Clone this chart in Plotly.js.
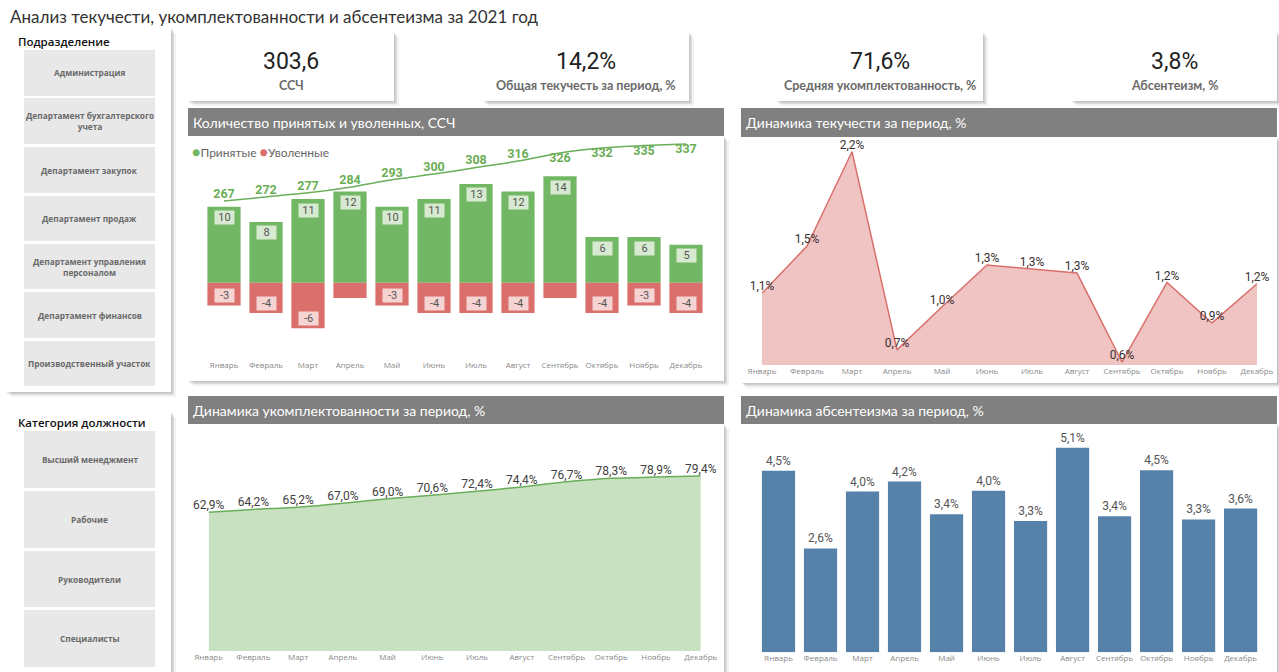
<!DOCTYPE html>
<html><head><meta charset="utf-8">
<script src="https://cdn.plot.ly/plotly-3.0.1.min.js"></script>
<style>html,body{margin:0;padding:0;background:#fff;}#chart{width:1279px;height:672px;}</style>
</head><body><div id="chart"></div>
<script>
const months = ['Январь','Февраль','Март','Апрель','Май','Июнь','Июль','Август','Сентябрь','Октябрь','Ноябрь','Декабрь'];
const hires = [10,8,11,12,10,11,13,12,14,6,6,5];
const dismissed = [-3,-4,-6,-2,-3,-4,-4,-4,-2,-4,-3,-4];
const headcount = [267,272,277,284,293,300,308,316,326,332,335,337];
const turnover = [1.12,1.47,2.17,0.70,1.02,1.33,1.30,1.27,0.61,1.20,0.90,1.19];
const staffing = [62.9,64.2,65.2,67.0,69.0,70.6,72.4,74.4,76.7,78.3,78.9,79.4];
const absenteeism = [4.51,2.58,3.99,4.24,3.43,4.01,3.26,5.08,3.38,4.52,3.30,3.57];
const kpiValues = ['303,6','14,2%','71,6%','3,8%'];
const kpiLabels = ['ССЧ','Общая текучесть за период, %','Средняя укомплектованность, %','Абсентеизм, %'];
const departments = ['Администрация','Департамент бухгалтерского<br>учета','Департамент закупок','Департамент продаж','Департамент управления<br>персоналом','Департамент финансов','Производственный участок'];
const positionCats = ['Высший менеджмент','Рабочие','Руководители','Специалисты'];
const panelTitles = ['Количество принятых и уволенных, ССЧ','Динамика текучести за период, %','Динамика укомплектованности за период, %','Динамика абсентеизма за период, %'];
const pageTitle = 'Анализ текучести, укомплектованности и абсентеизма за 2021 год';

const W = 1279, H = 672;
const fx = p => p / W, fy = p => 1 - p / H;
const pct = v => v.toFixed(1).replace('.', ',') + '%';

const GREEN = '#72b763', RED = '#da6f6b', BLUE = '#5682aa';
const NUM_FONT = 'Roboto, "DejaVu Sans", sans-serif';
const UI_FONT = 'Lato, "Open Sans", sans-serif';

const shapes = [];
const annotations = [];
function rect(x0, y0, x1, y1, fill) {
  shapes.push({type:'rect', xref:'paper', yref:'paper', x0:fx(x0), x1:fx(x1), y0:fy(y1), y1:fy(y0),
    fillcolor:fill, line:{width:0}, layer:'below'});
}
function card(x0, y0, x1, y1) {
  rect(x0+5, y0+5, x1+5, y1+5, 'rgba(0,0,0,0.05)');
  rect(x0+3, y0+3, x1+3, y1+3, 'rgba(0,0,0,0.09)');
  rect(x0+1, y0+1, x1+1.5, y1+1.5, 'rgba(0,0,0,0.10)');
  rect(x0, y0, x1, y1, '#ffffff');
}
function text(t, x, y, opts) {
  annotations.push(Object.assign({text:t, xref:'paper', yref:'paper', x:fx(x), y:fy(y), showarrow:false,
    xanchor:'center', yanchor:'middle'}, opts || {}));
}

// page title
text(pageTitle, 8, 16, {xanchor:'left', font:{family:UI_FONT, size:17, color:'#333'}});

// slicer 1
card(6, 28, 171, 392);
text('Подразделение', 16, 41, {xanchor:'left', font:{family:'"Open Sans", sans-serif', size:11.5, color:'#111', weight:600}});
const deptBoxes = [[50,96],[98,144],[147,193],[196,241],[244,289],[292,338],[341,386]];
deptBoxes.forEach((b, i) => {
  rect(24, b[0], 155, b[1], '#e8e8e8');
  text(departments[i], 89.5, (b[0]+b[1])/2, {font:{family:'"Open Sans", sans-serif', size:8.3, color:'#6a6a6a', weight:700}});
});
// slicer 2
card(6, 412, 171, 680);
text('Категория должности', 16, 422.5, {xanchor:'left', font:{family:'"Open Sans", sans-serif', size:11.5, color:'#111', weight:600}});
const posBoxes = [[431,488],[491,548],[551,607],[610,667]];
posBoxes.forEach((b, i) => {
  rect(24, b[0], 155, b[1], '#e8e8e8');
  text(positionCats[i], 89.5, (b[0]+b[1])/2, {font:{family:'"Open Sans", sans-serif', size:8.3, color:'#6a6a6a', weight:700}});
});

// KPI cards
const kpiBoxes = [[188,394],[483,689],[776,983],[1071,1277]];
kpiBoxes.forEach((b, i) => {
  card(b[0], 32, b[1], 101);
  const cx = (b[0]+b[1])/2;
  text(kpiValues[i], cx, 61, {font:{family:NUM_FONT, size:23, color:'#222'}});
  text(kpiLabels[i], cx, 85, {font:{family:UI_FONT, size:12.5, color:'#6a6a6a', weight:700}});
});

// panels
const panels = [[188,108,724,136,381],[741,108,1277,137,383],[188,396,724,424,680],[741,396,1277,424,680]];
panels.forEach((p, i) => {
  card(p[0], p[3], p[2], p[4]);
  rect(p[0], p[1], p[2], p[3], '#808080');
  text(panelTitles[i], p[0]+3, (p[1]+p[3])/2, {xanchor:'left', font:{family:UI_FONT, size:14, color:'#ffffff'}});
});

// legend chart 1
text('<span style="color:'+GREEN+';font-size:14px">●</span>Принятые <span style="color:'+RED+';font-size:14px">●</span>Уволенные', 190, 152,
  {xanchor:'left', font:{family:UI_FONT, size:12, color:'#666'}});

// bar value boxes chart 1
months.forEach((m, i) => {
  annotations.push({x:m, y:hires[i], xref:'x', yref:'y', yshift:-11, showarrow:false, text:String(hires[i]),
    bgcolor:'#d7e9d1', bordercolor:'rgba(0,0,0,0)', width:19, height:13, borderpad:0, font:{family:NUM_FONT, size:11, color:'#555'}});
  if (dismissed[i] <= -3) {
    annotations.push({x:m, y:dismissed[i], xref:'x', yref:'y', yshift:10, showarrow:false, text:String(dismissed[i]),
      bgcolor:'#f5d4d3', bordercolor:'rgba(0,0,0,0)', width:19, height:13, borderpad:0, font:{family:NUM_FONT, size:11, color:'#555'}});
  }
});

const axisX = (d) => ({domain:[fx(d[0]), fx(d[1])], type:'category', showgrid:false, zeroline:false, showline:false,
  ticks:'', tickfont:{family:'"Open Sans", sans-serif', size:8, color:'#8a8a8a'}, fixedrange:true});

const traces = [
  {type:'bar', x:months, y:hires, name:'Принятые', marker:{color:GREEN}, xaxis:'x', yaxis:'y', hoverinfo:'skip'},
  {type:'bar', x:months, y:dismissed, name:'Уволенные', marker:{color:RED}, xaxis:'x', yaxis:'y', hoverinfo:'skip'},
  {type:'scatter', mode:'lines+text', x:months, y:headcount, text:headcount.map(String),
    textposition:headcount.map((v, i) => i < 8 ? 'top center' : 'bottom center'),
    textfont:{family:NUM_FONT, size:12.5, color:'#6aae55', weight:700},
    line:{color:'#6aae5a', width:1.5, shape:'spline', smoothing:0.6}, xaxis:'x', yaxis:'y2', cliponaxis:false, hoverinfo:'skip'},
  {type:'scatter', mode:'lines+text', x:months, y:turnover, text:turnover.map(pct), textposition:'top center',
    textfont:{family:NUM_FONT, size:12, color:'#3a3030'}, fill:'tozeroy', fillcolor:'#efc4c3',
    line:{color:'#d9706b', width:1.5}, xaxis:'x2', yaxis:'y3', cliponaxis:false, hoverinfo:'skip'},
  {type:'scatter', mode:'lines+text', x:months, y:staffing, text:staffing.map(pct), textposition:'top center',
    textfont:{family:NUM_FONT, size:12, color:'#404040'}, fill:'tozeroy', fillcolor:'#c8e2c1',
    line:{color:'#6aae5a', width:1.5, shape:'spline', smoothing:0.5}, xaxis:'x3', yaxis:'y4', cliponaxis:false, hoverinfo:'skip'},
  {type:'bar', x:months, y:absenteeism, text:absenteeism.map(pct), textposition:'outside', constraintext:'none',
    textfont:{family:NUM_FONT, size:12, color:'#555'}, marker:{color:BLUE}, xaxis:'x4', yaxis:'y5', cliponaxis:false, hoverinfo:'skip'}
];

const layout = {
  width:W, height:H, margin:{l:0, r:0, t:0, b:0}, paper_bgcolor:'#ffffff', plot_bgcolor:'rgba(0,0,0,0)',
  showlegend:false, barmode:'relative', bargap:0.21,
  xaxis: Object.assign(axisX([203,707]), {anchor:'y', range:[-0.5, 11.5]}),
  yaxis: {domain:[fy(359), fy(140)], range:[-10.04, 18.78], visible:false, fixedrange:true, anchor:'x'},
  yaxis2: {overlaying:'y', range:[72.9, 341.9], visible:false, fixedrange:true, anchor:'x'},
  xaxis2: Object.assign(axisX([762,1257]), {anchor:'y3', range:[0, 11]}),
  yaxis3: {domain:[fy(365), fy(140)], range:[0.588, 2.257], visible:false, fixedrange:true, anchor:'x2'},
  xaxis3: Object.assign(axisX([208.6,700.8]), {anchor:'y4', range:[0, 11]}),
  yaxis4: {domain:[fy(651), fy(430)], range:[0, 100.2], visible:false, fixedrange:true, anchor:'x3'},
  xaxis4: Object.assign(axisX([757.5,1261.6]), {anchor:'y5', range:[-0.5, 11.5]}),
  yaxis5: {domain:[fy(652.3), fy(430)], range:[0, 5.52], visible:false, fixedrange:true, anchor:'x4'},
  shapes: shapes, annotations: annotations
};

Plotly.newPlot('chart', traces, layout, {staticPlot:true, displayModeBar:false});
</script></body></html>
